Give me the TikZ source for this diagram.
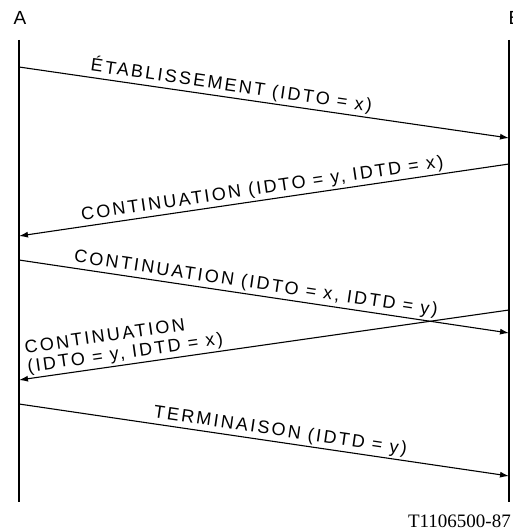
\documentclass[tikz,border=0pt]{standalone}
\usepackage{fontspec}
\setmainfont{Liberation Sans}
\newfontfamily\lbl[LetterSpace=13]{Liberation Sans}
\newfontfamily\refserif{Liberation Serif}
\usetikzlibrary{arrows.meta}
\begin{document}
\begin{tikzpicture}[x=1pt,y=-1pt,
  lifeline/.style={line width=1.5pt},
  msg/.style={line width=1.1pt,-{Latex[length=9pt,width=6pt]}},
  msglabel/.style={sloped,above,inner sep=2pt,font=\lbl\fontsize{18}{19}\selectfont},
  party/.style={font=\fontsize{19}{21}\selectfont,inner sep=0pt}]
\useasboundingbox (0,0) rectangle (512,532);
% parties
\node[party] (A) at (20,18) {A};
\node[party] (B) at (515,18) {B};
% lifelines
\coordinate (At) at (19,40);
\coordinate (Ab) at (19,502);
\coordinate (Bt) at (509,40);
\coordinate (Bb) at (509,502);
\draw[lifeline] (At) -- (Ab);
\draw[lifeline] (Bt) -- (Bb);
% message endpoints
\coordinate (a1) at (19,67);   \coordinate (b1) at (509,138);
\coordinate (b2) at (509,164); \coordinate (a2) at (19,236);
\coordinate (a3) at (19,260);  \coordinate (b3) at (509,333);
\coordinate (b4) at (509,310); \coordinate (a4) at (19,380);
\coordinate (a5) at (19,404);  \coordinate (b5) at (509,476);
% messages
\draw[msg] (a1) -- node[msglabel,pos=0.43] (l1) {ÉTABLISSEMENT (IDTO = x)} (b1);
\draw[msg] (b2) -- node[msglabel,pos=0.5] (l2) {CONTINUATION (IDTO = y, IDTD = x)} (a2);
\draw[msg] (a3) -- node[msglabel,pos=0.48] (l3) {CONTINUATION (IDTO = x, IDTD = y)} (b3);
\draw[msg] (b4) -- node[msglabel,pos=0.78,align=left,inner sep=2pt] (l4) {CONTINUATION\\(IDTO = y, IDTD = x)} (a4);
\draw[msg] (a5) -- node[msglabel,pos=0.53] (l5) {TERMINAISON (IDTD = y)} (b5);
% reference
\node[anchor=base east,inner sep=0pt,font=\refserif\fontsize{19}{21}\selectfont] (ref) at (511,527) {T1106500-87};
\end{tikzpicture}
\end{document}
